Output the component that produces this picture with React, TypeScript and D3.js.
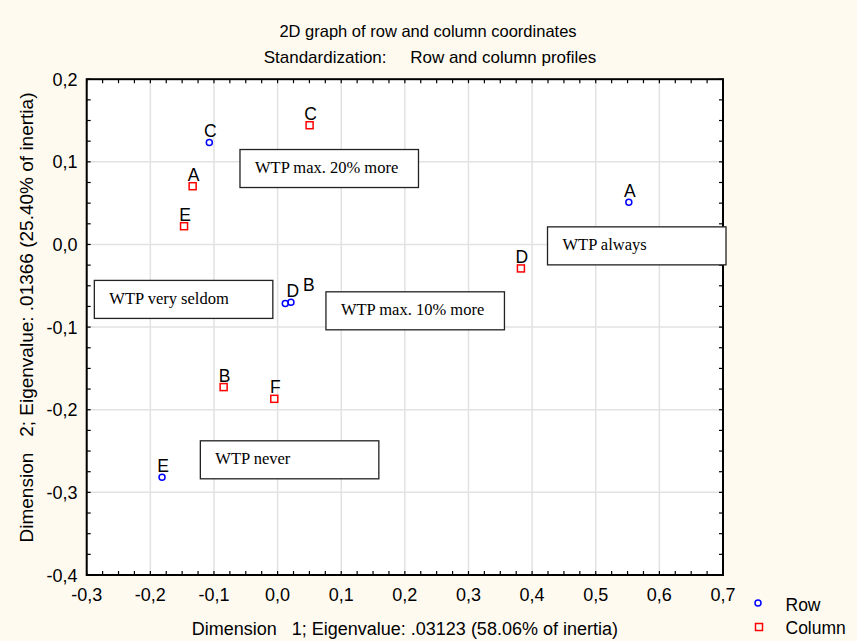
import React from "react";
import * as d3 from "d3";

const rowLabels = ["A", "B", "C", "D", "E"];
const rowDim1 = [0.552, 0.021, -0.1073, 0.0121, -0.1816];
const rowDim2 = [0.0512, -0.07, 0.1234, -0.0714, -0.2818];

const colLabels = ["A", "B", "C", "D", "E", "F"];
const colDim1 = [-0.1335, -0.0848, 0.0503, 0.3824, -0.147, -0.0052];
const colDim2 = [0.0705, -0.1726, 0.1443, -0.029, 0.0221, -0.1868];

const noteTexts = ["WTP max. 20% more", "WTP very seldom", "WTP max. 10% more", "WTP never", "WTP always"];
const noteDim1 = [-0.0591, -0.288, 0.076, -0.1214, 0.4242];
const noteDim2 = [0.1149, -0.0435, -0.0573, -0.2376, 0.0213];

const xTickValues = [-0.3, -0.2, -0.1, 0.0, 0.1, 0.2, 0.3, 0.4, 0.5, 0.6, 0.7];
const yTickValues = [-0.4, -0.3, -0.2, -0.1, 0.0, 0.1, 0.2];

const title1 = "2D graph of row and column coordinates";
const title2 = "Standardization:\u00a0\u00a0\u00a0\u00a0\u00a0Row and column profiles";
const xTitle = "Dimension\u00a0\u00a0\u00a01; Eigenvalue: .03123 (58.06% of inertia)";
const yTitle = "Dimension\u00a0\u00a0\u00a02; Eigenvalue: .01366 (25.40% of inertia)";

const W = 857, H = 641;
const L = 86.7, R = 723, T = 79.2, B = 575;
const FONT = "Liberation Sans, Arial, sans-serif";

const locale = d3.formatLocale({ decimal: ",", thousands: ".", grouping: [3], currency: ["", ""], minus: "-" });
const fmt = locale.format(".1f");

const labelOffsets: Record<string, [number, number]> = {
  "row-D": [7.5, -6.6],
  "row-B": [18, -11.6],
};

export default function App() {
  const x = d3.scaleLinear().domain([-0.3, 0.7]).range([L, R]);
  const y = d3.scaleLinear().domain([-0.4, 0.2]).range([B, T]);
  const minorX = d3.range(-12, 29).map((i) => i / 40);
  const minorY = d3.range(-16, 9).map((i) => i / 40);
  const tl = 4;
  const rows = rowLabels.map((l, i) => ({ l, x: rowDim1[i], y: rowDim2[i], key: "row-" + l }));
  const cols = colLabels.map((l, i) => ({ l, x: colDim1[i], y: colDim2[i], key: "col-" + l }));
  const notes = noteTexts.map((t, i) => ({ t, x: noteDim1[i], y: noteDim2[i] }));
  const label = (p: { l: string; x: number; y: number; key: string }) => {
    const off = labelOffsets[p.key] || [1, -5.5];
    return (
      <text key={"t" + p.key} x={x(p.x) + off[0]} y={y(p.y) + off[1]} textAnchor="middle" fontSize={17.5} fontFamily={FONT} fill="#000">
        {p.l}
      </text>
    );
  };
  return (
    <svg width={W} height={H} style={{ position: "absolute", left: 0, top: 0 }}>
      <rect x={0} y={0} width={W} height={H} fill="#FFFAF0" />
      <rect x={L} y={T} width={R - L} height={B - T} fill="#fff" />
      {xTickValues.map((v) => (
        <line key={"gx" + v} x1={x(v)} x2={x(v)} y1={T} y2={B} stroke="#E2E2E2" strokeWidth={1.5} />
      ))}
      {yTickValues.map((v) => (
        <line key={"gy" + v} x1={L} x2={R} y1={y(v)} y2={y(v)} stroke="#E2E2E2" strokeWidth={1.5} />
      ))}
      {minorX.map((v) => (
        <g key={"mx" + v}>
          <line x1={x(v)} x2={x(v)} y1={B} y2={B - tl} stroke="#000" strokeWidth={1.2} />
          <line x1={x(v)} x2={x(v)} y1={T} y2={T + tl} stroke="#000" strokeWidth={1.2} />
        </g>
      ))}
      {minorY.map((v) => (
        <g key={"my" + v}>
          <line x1={L} x2={L + tl} y1={y(v)} y2={y(v)} stroke="#000" strokeWidth={1.2} />
          <line x1={R} x2={R - tl} y1={y(v)} y2={y(v)} stroke="#000" strokeWidth={1.2} />
        </g>
      ))}
      <rect x={L} y={T} width={R - L} height={B - T} fill="none" stroke="#000" strokeWidth={2} />
      {xTickValues.map((v) => (
        <text key={"xl" + v} x={x(v)} y={601} textAnchor="middle" fontSize={18} fontFamily={FONT} fill="#000">
          {fmt(v)}
        </text>
      ))}
      {yTickValues.map((v) => (
        <text key={"yl" + v} x={77.5} y={y(v) + 6.5} textAnchor="end" fontSize={18} fontFamily={FONT} fill="#000">
          {fmt(v)}
        </text>
      ))}
      {notes.map((n) => (
        <g key={n.t}>
          <rect x={x(n.x)} y={y(n.y)} width={178.5} height={38} fill="#fff" stroke="#222" strokeWidth={1.3} />
          <text x={x(n.x) + 15} y={y(n.y) + 23.5} fontSize={16.5} fontFamily="Liberation Serif, Times New Roman, serif" fill="#000">
            {n.t}
          </text>
        </g>
      ))}
      {rows.map((p) => (
        <circle key={p.key} cx={x(p.x)} cy={y(p.y)} r={3} fill="none" stroke="#0000FF" strokeWidth={1.5} />
      ))}
      {cols.map((p) => (
        <rect key={p.key} x={x(p.x) - 3.5} y={y(p.y) - 3.5} width={7} height={7} fill="none" stroke="#FF0000" strokeWidth={1.5} />
      ))}
      {rows.map(label)}
      {cols.map(label)}
      <text x={428} y={37} textAnchor="middle" fontSize={16.5} fontFamily={FONT} fill="#000">{title1}</text>
      <text x={430} y={63} textAnchor="middle" fontSize={17} fontFamily={FONT} fill="#000">{title2}</text>
      <text x={(L + R) / 2} y={635} textAnchor="middle" fontSize={18} fontFamily={FONT} fill="#000">{xTitle}</text>
      <text transform={`translate(33,317.5) rotate(-90)`} textAnchor="middle" fontSize={19} fontFamily={FONT} fill="#000">{yTitle}</text>
      <circle cx={758} cy={603} r={3} fill="none" stroke="#0000FF" strokeWidth={1.5} />
      <text x={785.5} y={611} fontSize={17.5} fontFamily={FONT} fill="#000">Row</text>
      <rect x={755.5} y={623.5} width={7} height={7} fill="none" stroke="#FF0000" strokeWidth={1.5} />
      <text x={785.5} y={634} fontSize={17.5} fontFamily={FONT} fill="#000">Column</text>
    </svg>
  );
}
